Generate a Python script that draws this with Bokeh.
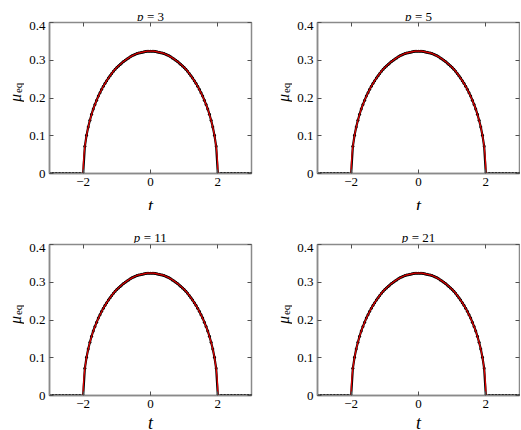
import math
from bokeh.plotting import figure
from bokeh.models import (ColumnDataSource, FixedTicker, LinearAxis,
                          CustomJSTickFormatter, Range1d)
from bokeh.core.properties import value
from bokeh.layouts import column, row
from bokeh.embed import file_html
from bokeh.resources import INLINE

# ---------------- data ----------------
p_values = [3, 5, 11, 21]

t_pts = [-3.0, -2.9, -2.8, -2.7, -2.6, -2.5, -2.4, -2.3, -2.2, -2.1,
         -2.0, -1.95, -1.9, -1.85, -1.8, -1.75, -1.7, -1.65, -1.6, -1.55,
         -1.5, -1.45, -1.4, -1.35, -1.3, -1.25, -1.2, -1.15, -1.1, -1.05,
         -1.0, -0.95, -0.9, -0.85, -0.8, -0.75, -0.7, -0.65, -0.6, -0.55,
         -0.5, -0.45, -0.4, -0.35, -0.3, -0.25, -0.2, -0.15, -0.1, -0.05,
         0.0,
         0.05, 0.1, 0.15, 0.2, 0.25, 0.3, 0.35, 0.4, 0.45, 0.5,
         0.55, 0.6, 0.65, 0.7, 0.75, 0.8, 0.85, 0.9, 0.95, 1.0,
         1.05, 1.1, 1.15, 1.2, 1.25, 1.3, 1.35, 1.4, 1.45, 1.5,
         1.55, 1.6, 1.65, 1.7, 1.75, 1.8, 1.85, 1.9, 1.95, 2.0,
         2.1, 2.2, 2.3, 2.4, 2.5, 2.6, 2.7, 2.8, 2.9, 3.0]

mu_pts = [0.0, 0.0, 0.0, 0.0, 0.0, 0.0, 0.0, 0.0, 0.0, 0.0,
          0.0, 0.072, 0.101, 0.123, 0.141, 0.157, 0.171, 0.183, 0.194, 0.205,
          0.214, 0.223, 0.231, 0.239, 0.246, 0.253, 0.259, 0.265, 0.271, 0.276,
          0.281, 0.285, 0.289, 0.293, 0.297, 0.300, 0.303, 0.306, 0.309, 0.312,
          0.314, 0.316, 0.318, 0.319, 0.320, 0.321, 0.322, 0.323, 0.324, 0.324,
          0.324,
          0.324, 0.324, 0.323, 0.322, 0.321, 0.320, 0.319, 0.318, 0.316, 0.314,
          0.312, 0.309, 0.306, 0.303, 0.300, 0.297, 0.293, 0.289, 0.285, 0.281,
          0.276, 0.271, 0.265, 0.259, 0.253, 0.246, 0.239, 0.231, 0.223, 0.214,
          0.205, 0.194, 0.183, 0.171, 0.157, 0.141, 0.123, 0.101, 0.072, 0.0,
          0.0, 0.0, 0.0, 0.0, 0.0, 0.0, 0.0, 0.0, 0.0, 0.0]

t_fit = [-2.0, -1.995, -1.98, -1.95, -1.9, -1.85, -1.8, -1.7, -1.6, -1.5,
         -1.4, -1.3, -1.2, -1.1, -1.0, -0.9, -0.8, -0.7, -0.6, -0.5,
         -0.4, -0.3, -0.2, -0.1, 0.0, 0.1, 0.2, 0.3, 0.4, 0.5,
         0.6, 0.7, 0.8, 0.9, 1.0, 1.1, 1.2, 1.3, 1.4, 1.5,
         1.6, 1.7, 1.8, 1.85, 1.9, 1.95, 1.98, 1.995, 2.0]
mu_fit = [0.0, 0.023, 0.046, 0.072, 0.101, 0.123, 0.141, 0.171, 0.194, 0.214,
          0.231, 0.246, 0.259, 0.271, 0.281, 0.289, 0.297, 0.303, 0.309, 0.314,
          0.318, 0.320, 0.322, 0.324, 0.324, 0.324, 0.322, 0.320, 0.318, 0.314,
          0.309, 0.303, 0.297, 0.289, 0.281, 0.271, 0.259, 0.246, 0.231, 0.214,
          0.194, 0.171, 0.141, 0.123, 0.101, 0.072, 0.046, 0.023, 0.0]

x_ticks = [-2, 0, 2]
y_ticks = [0, 0.1, 0.2, 0.3, 0.4]
x_label = "t"
y_label_main = "μ"
y_label_sub = "eq"

SERIF = "Liberation Serif"
FRAME_W = 202
FRAME_H = 151
YLAB_W = 24
LEFT_B = 25
TOP_B = 1
BOT_B = 17
GRAY = "#8a8a8a"

xfmt = CustomJSTickFormatter(code="return tick < 0 ? '\u2212' + Math.abs(tick) : String(tick);")
yfmt = CustomJSTickFormatter(code="return tick == 0 ? '0' : tick.toFixed(1);")
blank = CustomJSTickFormatter(code="return '';")


def style_axis(ax, show_labels):
    ax.major_tick_in = 4
    ax.major_tick_out = 0
    ax.minor_tick_line_color = None
    ax.major_tick_line_color = "#505050"
    ax.major_tick_line_width = 1
    ax.axis_line_color = GRAY
    ax.axis_line_width = 1.5
    if show_labels:
        ax.major_label_text_font = SERIF
        ax.major_label_text_font_size = "13px"
        ax.major_label_text_color = "black"
        ax.major_label_standoff = 4
    else:
        ax.formatter = blank
        ax.major_label_text_alpha = 0
        ax.major_label_text_font_size = "0px"
        ax.major_label_standoff = 0
        ax.axis_line_color = None


def strip(width, height):
    f = figure(width=width, height=height, output_backend="svg", title=None,
               toolbar_location=None, x_range=Range1d(0, width),
               y_range=Range1d(0, height), x_axis_location=None,
               y_axis_location=None, min_border=0)
    f.min_border_left = f.min_border_right = 0
    f.min_border_top = f.min_border_bottom = 0
    f.grid.visible = False
    f.outline_line_color = None
    return f


def make_panel(p_val, right_b, title_h, title_base, xlab_h, xlab_base):
    main_w = LEFT_B + FRAME_W + right_b
    main_h = TOP_B + FRAME_H + BOT_B
    fig = figure(width=main_w, height=main_h, title=None,
                 output_backend="svg", toolbar_location=None,
                 x_range=Range1d(-3, 3), y_range=Range1d(0, 0.4),
                 min_border_left=LEFT_B, min_border_right=right_b,
                 min_border_top=TOP_B, min_border_bottom=BOT_B)
    fig.grid.visible = False
    fig.outline_line_color = GRAY
    fig.outline_line_width = 1.5

    fig.below[0].ticker = FixedTicker(ticks=x_ticks)
    fig.below[0].formatter = xfmt
    fig.left[0].ticker = FixedTicker(ticks=y_ticks)
    fig.left[0].formatter = yfmt
    style_axis(fig.below[0], True)
    style_axis(fig.left[0], True)

    top = LinearAxis(ticker=FixedTicker(ticks=x_ticks))
    style_axis(top, False)
    fig.add_layout(top, "above")
    right = LinearAxis(ticker=FixedTicker(ticks=y_ticks))
    style_axis(right, False)
    fig.add_layout(right, "right")

    src_pts = ColumnDataSource(dict(t=t_pts, mu=mu_pts))
    src_fit = ColumnDataSource(dict(t=t_fit, mu=mu_fit))
    fig.line("t", "mu", source=src_pts, color="black", line_width=2.2)
    fig.scatter("t", "mu", source=src_pts, size=3.0, color="black",
                line_color=None)
    fig.line("t", "mu", source=src_fit, color="#e00000", line_width=1.2)

    full_w = YLAB_W + main_w
    cx = YLAB_W + LEFT_B + FRAME_W / 2

    # title strip  "p = N"
    fs = 13
    rest = "= %d" % p_val
    w_rest = fs * (0.564 + 0.25 + 0.5 * len(str(p_val)))
    w_p = 0.5 * fs
    gap = 3.5
    start = cx - (w_p + gap + w_rest) / 2
    ttl = strip(full_w, title_h)
    ttl.text(x=[start], y=[title_base], text=["p"], text_font=value(SERIF),
             text_font_style="italic", text_font_size="%dpx" % fs,
             text_align="left", text_baseline="alphabetic", text_color="black")
    ttl.text(x=[start + w_p + gap], y=[title_base], text=[rest],
             text_font=value(SERIF), text_font_size="%dpx" % fs,
             text_align="left", text_baseline="alphabetic", text_color="black")

    # y label strip  mu_eq
    ylab = strip(YLAB_W, main_h)
    ylab.text(x=[15], y=[80], text=[y_label_main], text_font=value(SERIF),
              text_font_style="italic", text_font_size="16px", angle=math.pi / 2,
              text_align="left", text_baseline="alphabetic", text_color="black")
    ylab.text(x=[17], y=[90], text=[y_label_sub], text_font=value(SERIF),
              text_font_size="11px", angle=math.pi / 2,
              text_align="left", text_baseline="alphabetic", text_color="black")

    # x label strip  t
    xlab = strip(full_w, xlab_h)
    xlab.text(x=[cx], y=[xlab_base], text=[x_label], text_font=value(SERIF),
              text_font_style="italic", text_font_size="18px",
              text_align="center", text_baseline="alphabetic", text_color="black")

    return column(ttl, row(ylab, fig), xlab)


f1 = make_panel(p_values[0], 17, 21, 5, 20, 5)
f2 = make_panel(p_values[1], 1, 21, 5, 20, 5)
f3 = make_panel(p_values[2], 17, 33, 6.5, 17, 7)
f4 = make_panel(p_values[3], 1, 33, 6.5, 17, 7)

layout = column(row(f1, f2), row(f3, f4))

open("out.html", "w").write(file_html(layout, INLINE))
